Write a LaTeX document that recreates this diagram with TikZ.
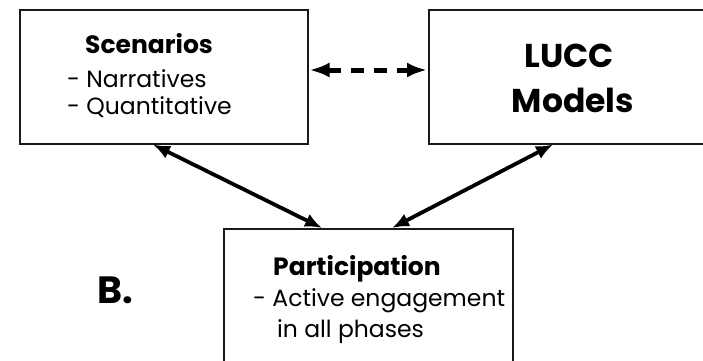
\documentclass[tikz,border=0pt]{standalone}
\usepackage{fontspec}
\setmainfont{Poppins}
\usetikzlibrary{arrows.meta,calc}

\tikzset{
  box/.style={draw=black!90, line width=1.5pt, rectangle, inner sep=0pt, anchor=north west},
  label/.style={anchor=base west, inner sep=0pt, font=\fontsize{23.5}{26}\selectfont},
  title/.style={anchor=base west, inner sep=0pt, font=\fontsize{25}{28}\selectfont\bfseries},
  big/.style={anchor=base, inner sep=0pt, font=\fontsize{33}{36}\selectfont\bfseries},
  link/.style={line width=3.8pt, {Latex[length=17pt,width=14pt]}-{Latex[length=17pt,width=14pt]}},
  dlink/.style={line width=5pt, dash pattern=on 13pt off 10pt, {Latex[length=20pt,width=15pt]}-{Latex[length=20pt,width=15pt]}, shorten <=1pt, shorten >=1pt}
}

\begin{document}
\begin{tikzpicture}[x=1pt,y=-1pt]
\useasboundingbox (0,0) rectangle (703,360);
\clip (0,0) rectangle (703,360);

% boxes
\node[box, minimum width=288pt, minimum height=134pt] (scen) at (19,9) {};
\node[box, minimum width=300pt, minimum height=134pt] (lucc) at (428,9) {};
\node[box, minimum width=289pt, minimum height=160pt] (part) at (223,228) {};

% scenarios text
\node[title] (scent) at (85,53) {Scenarios};
\node[label] (narr) at (67,87) {- Narratives};
\node[label] (quant) at (67,114) {- Quantitative};

% models text
\node[big] (luccA) at (569,67) {LUCC};
\node[big] (luccB) at (573,112) {Models};

% participation text
\node[title] (partt) at (273,275) {Participation};
\node[label] (act) at (253,306) {- Active engagement};
\node[label] (phase) at (277,337) {in all phases};

% panel letter
\node[anchor=base west, inner sep=0pt, font=\fontsize{38}{42}\selectfont\bfseries] (panel) at (97,303) {B.};

% connector end points on the box edges
\coordinate (s1) at ($(scen.south west)+(134pt,0)$);
\coordinate (p1) at ($(part.north west)+(99pt,0)$);
\coordinate (m1) at ($(lucc.south west)+(125pt,0)$);
\coordinate (p2) at ($(part.north west)+(169pt,0)$);

\draw[link] (s1) -- (p1);
\draw[link] (m1) -- (p2);
\draw[dlink] (scen.east |- 0,70) -- (lucc.west |- 0,70);
\end{tikzpicture}
\end{document}
